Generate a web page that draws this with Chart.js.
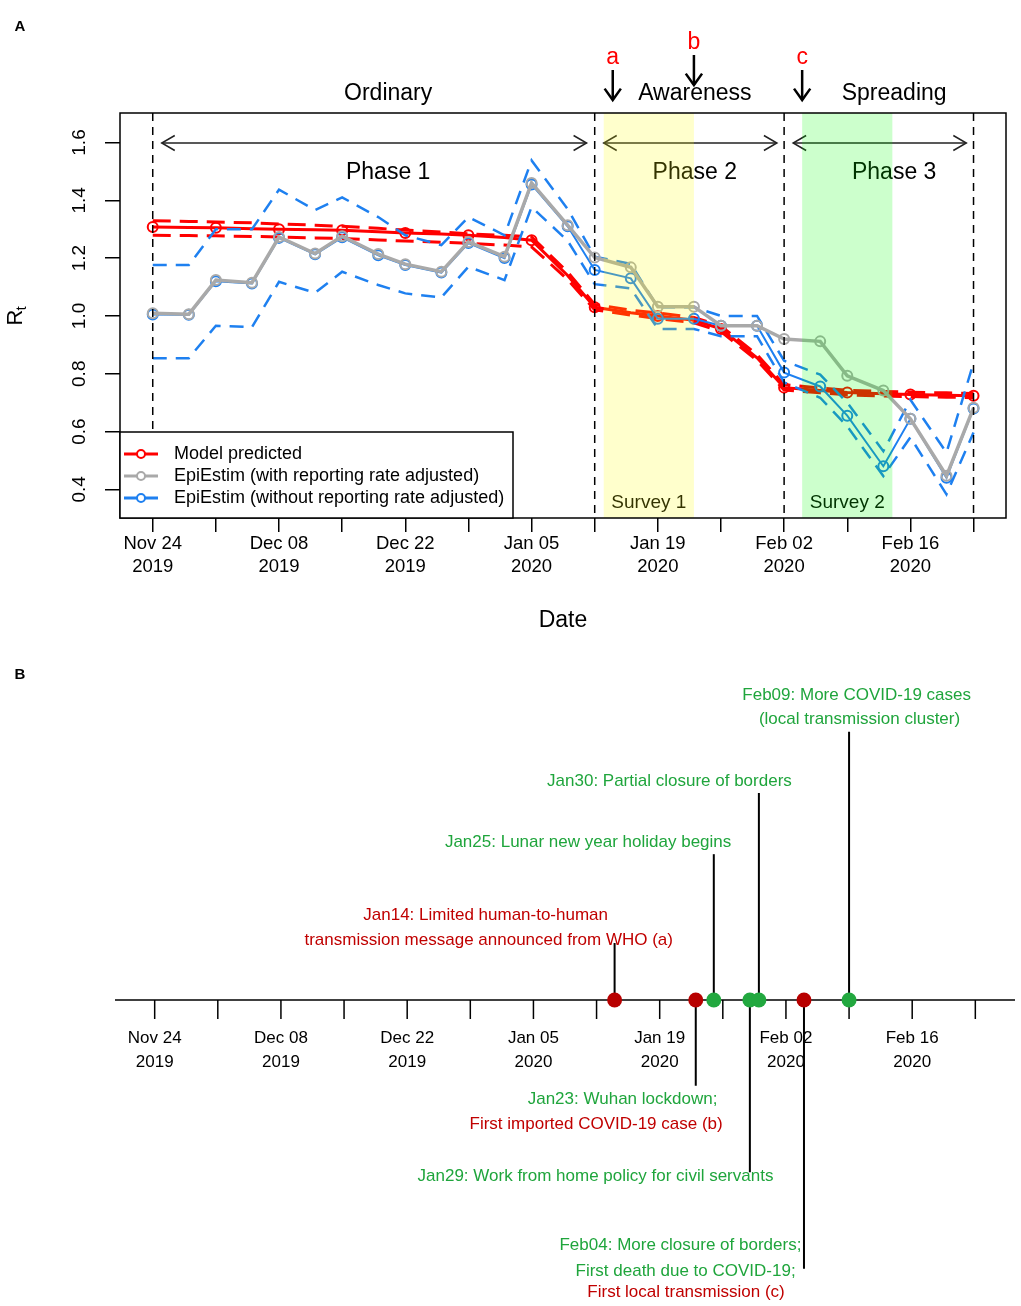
<!DOCTYPE html>
<html>
<head>
<meta charset="utf-8">
<script src="https://cdn.jsdelivr.net/npm/chart.js@4.4.0/dist/chart.umd.min.js"></script>
<style>
  html, body { margin: 0; padding: 0; background: #fff; }
  #wrap { position: relative; width: 1021px; height: 1306px; }
  canvas { position: absolute; left: 0; }
  #chartA { top: 0; }
  #chartB { top: 650px; }
</style>
</head>
<body>
<div id="wrap">
  <canvas id="chartA" width="1021" height="650"></canvas>
  <canvas id="chartB" width="1021" height="656"></canvas>
</div>
<script>
const FONT = '"Liberation Sans", Arial, Helvetica, sans-serif';
const RED = '#ff0000';
const GREY = '#a9a9a9';
const BLUE = '#1e80f0';
const TXT_RED = '#c00000';
const TXT_GREEN = '#1fa53c';

// ---- panel A data: days since 24 Nov 2019 ----
const days = [0, 4, 7, 11, 14, 18, 21, 25, 28, 32, 35, 39, 42, 46, 49, 53, 56, 60, 63, 67, 70, 74, 77, 81, 84, 88, 91];

const modelRt    = [1.308, 1.306, 1.305, 1.302, 1.300, 1.298, 1.296, 1.291, 1.287, 1.283, 1.279, 1.271, 1.262, 1.140, 1.030, 1.011, 1.000, 0.985, 0.955, 0.855, 0.752, 0.742, 0.735, 0.731, 0.728, 0.726, 0.724];
const modelUpper = [1.329, 1.327, 1.325, 1.322, 1.318, 1.314, 1.310, 1.303, 1.297, 1.290, 1.284, 1.279, 1.273, 1.152, 1.040, 1.020, 1.010, 0.995, 0.965, 0.866, 0.762, 0.751, 0.743, 0.739, 0.736, 0.734, 0.732];
const modelLower = [1.279, 1.278, 1.277, 1.275, 1.273, 1.270, 1.268, 1.263, 1.259, 1.255, 1.251, 1.245, 1.239, 1.126, 1.021, 1.003, 0.991, 0.976, 0.946, 0.846, 0.744, 0.734, 0.727, 0.723, 0.721, 0.719, 0.717];

const epiAdjRt   = [1.009, 1.006, 1.124, 1.115, 1.273, 1.216, 1.276, 1.214, 1.179, 1.153, 1.256, 1.205, 1.460, 1.314, 1.202, 1.168, 1.032, 1.032, 0.966, 0.966, 0.920, 0.912, 0.793, 0.742, 0.644, 0.447, 0.682];

const epiRawRt    = [1.005, 1.004, 1.120, 1.112, 1.270, 1.213, 1.272, 1.210, 1.176, 1.150, 1.252, 1.200, 1.455, 1.310, 1.159, 1.130, 0.990, 0.990, 0.966, 0.966, 0.804, 0.756, 0.655, 0.480, 0.644, 0.440, 0.680];
const epiRawUpper = [1.176, 1.176, 1.300, 1.300, 1.437, 1.366, 1.410, 1.342, 1.279, 1.245, 1.342, 1.279, 1.538, 1.370, 1.205, 1.180, 1.030, 1.030, 1.000, 1.000, 0.845, 0.797, 0.700, 0.532, 0.710, 0.527, 0.838];
const epiRawLower = [0.854, 0.854, 0.966, 0.961, 1.118, 1.080, 1.153, 1.107, 1.078, 1.064, 1.170, 1.124, 1.377, 1.260, 1.110, 1.095, 0.955, 0.955, 0.930, 0.930, 0.770, 0.717, 0.618, 0.446, 0.580, 0.383, 0.597];

// axis ticks
const weekTicks = [0, 7, 14, 21, 28, 35, 42, 49, 56, 63, 70, 77, 84, 91];
const tickDays = [0, 14, 28, 42, 56, 70, 84];
const tickLabels = [['Nov 24', '2019'], ['Dec 08', '2019'], ['Dec 22', '2019'], ['Jan 05', '2020'], ['Jan 19', '2020'], ['Feb 02', '2020'], ['Feb 16', '2020']];
const yTicks = [0.4, 0.6, 0.8, 1.0, 1.2, 1.4, 1.6];
const yTickLabels = ['0.4', '0.6', '0.8', '1.0', '1.2', '1.4', '1.6'];

// phases, surveys, events a/b/c
const phaseBreaks = [0, 49, 70, 91];
const phaseArrows = [[1, 48.1], [50, 69.2], [71, 90.2]];
const phaseNames = ['Phase 1', 'Phase 2', 'Phase 3'];
const periodNames = ['Ordinary', 'Awareness', 'Spreading'];
const phaseLabelDays = [26.1, 60.1, 82.2];
const surveyNames = ['Survey 1', 'Survey 2'];
const surveyFrom = [50, 72];
const surveyTo = [60, 82];
const surveyFill = ['rgba(255,255,0,0.2)', 'rgba(0,255,0,0.2)'];
const markDays = [51, 60, 72];
const markLetters = ['a', 'b', 'c'];

// ---- panel B data ----
const eventDays = [51, 60, 62, 66, 67, 72, 77];
const eventLetter = ['a', 'b', '', '', '', 'c', ''];
const eventStem = [0.95, -1.43, 2.43, -2.87, 3.45, -4.48, 4.47];
// label lines: [text, colour, centre day, level]
const eventText = [
  ['Jan14: Limited human-to-human', TXT_RED, 36.7, 1.405],
  ['transmission message announced from WHO (a)', TXT_RED, 37.04, 1.0],
  ['Jan23: Wuhan lockdown;', TXT_GREEN, 51.88, -1.655],
  ['First imported COVID-19 case (b)', TXT_RED, 48.95, -2.067],
  ['Jan25: Lunar new year holiday begins', TXT_GREEN, 48.06, 2.62],
  ['Jan29: Work from home policy for civil servants', TXT_GREEN, 48.88, -2.933],
  ['Jan30: Partial closure of borders', TXT_GREEN, 57.08, 3.65],
  ['Feb04: More closure of borders;', TXT_GREEN, 58.3, -4.095],
  ['First death due to COVID-19;', TXT_GREEN, 58.87, -4.517],
  ['First local transmission (c)', TXT_RED, 58.92, -4.867],
  ['Feb09: More COVID-19 cases', TXT_GREEN, 77.84, 5.083],
  ['(local transmission cluster)', TXT_GREEN, 78.16, 4.678]
];

const pts = vals => days.map((d, i) => ({ x: d, y: vals[i] }));

function head(ctx, tx, ty, ang, len, spread) {
  // open V arrow head, tip at (tx,ty), pointing along ang
  ctx.beginPath();
  ctx.moveTo(tx - len * Math.cos(ang - spread), ty - len * Math.sin(ang - spread));
  ctx.lineTo(tx, ty);
  ctx.lineTo(tx - len * Math.cos(ang + spread), ty - len * Math.sin(ang + spread));
  ctx.stroke();
}

const panelA = {
  id: 'panelA',
  afterDatasetsDraw(chart) {
    const { ctx, chartArea: a, scales: { x, y } } = chart;
    ctx.save();
    // phase boundaries
    ctx.strokeStyle = '#000';
    ctx.lineWidth = 1.5;
    ctx.setLineDash([8, 6]);
    phaseBreaks.forEach(d => {
      const px = x.getPixelForValue(d);
      ctx.beginPath();
      ctx.moveTo(px, a.top);
      ctx.lineTo(px, a.bottom);
      ctx.stroke();
    });
    ctx.setLineDash([]);
    // phase arrows
    const ay = a.top + 30;
    ctx.strokeStyle = '#222';
    ctx.lineWidth = 1.5;
    phaseArrows.forEach(([d1, d2]) => {
      const x1 = x.getPixelForValue(d1), x2 = x.getPixelForValue(d2);
      ctx.beginPath();
      ctx.moveTo(x1, ay);
      ctx.lineTo(x2, ay);
      ctx.stroke();
      head(ctx, x1, ay, Math.PI, 15, Math.PI / 6);
      head(ctx, x2, ay, 0, 15, Math.PI / 6);
    });
    ctx.fillStyle = '#000';
    ctx.textAlign = 'center';
    ctx.textBaseline = 'middle';
    ctx.font = '23px ' + FONT;
    phaseNames.forEach((t, i) => ctx.fillText(t, x.getPixelForValue(phaseLabelDays[i]), a.top + 60));
    ctx.font = '19px ' + FONT;
    surveyNames.forEach((t, i) => ctx.fillText(t, x.getPixelForValue((surveyFrom[i] + surveyTo[i]) / 2), a.bottom - 15));
    // survey shading, drawn over everything as a translucent band
    surveyNames.forEach((t, i) => {
      const x1 = x.getPixelForValue(surveyFrom[i]), x2 = x.getPixelForValue(surveyTo[i]);
      ctx.fillStyle = surveyFill[i];
      ctx.fillRect(x1, a.top, x2 - x1, a.bottom - a.top);
    });
    // frame
    ctx.strokeStyle = '#000';
    ctx.lineWidth = 1.5;
    ctx.strokeRect(a.left, a.top, a.right - a.left, a.bottom - a.top);
    ctx.restore();
  },
  afterDraw(chart) {
    const { ctx, chartArea: a, scales: { x, y } } = chart;
    ctx.save();
    ctx.textAlign = 'center';
    ctx.textBaseline = 'middle';
    // legend
    const items = chart.data.datasets.filter(ds => ds.legendRank !== undefined)
      .sort((p, q) => p.legendRank - q.legendRank);
    const lx = a.left, lw = 393, lh = 86, ly = a.bottom - lh;
    ctx.fillStyle = '#fff';
    ctx.fillRect(lx, ly, lw, lh);
    ctx.strokeStyle = '#000';
    ctx.lineWidth = 1.5;
    ctx.strokeRect(lx, ly, lw, lh);
    ctx.font = '18px ' + FONT;
    items.forEach((ds, i) => {
      const ry = ly + 22 + i * 22;
      ctx.strokeStyle = ds.borderColor;
      ctx.lineWidth = 3;
      ctx.beginPath();
      ctx.moveTo(lx + 4, ry);
      ctx.lineTo(lx + 38, ry);
      ctx.stroke();
      ctx.fillStyle = '#fff';
      ctx.lineWidth = 2;
      ctx.beginPath();
      ctx.arc(lx + 21, ry, 4, 0, Math.PI * 2);
      ctx.fill();
      ctx.stroke();
      ctx.fillStyle = '#000';
      ctx.textAlign = 'left';
      ctx.fillText(ds.label, lx + 54, ry);
    });
    ctx.textAlign = 'center';
    // period names above the frame
    ctx.fillStyle = '#000';
    ctx.font = '23px ' + FONT;
    periodNames.forEach((t, i) => ctx.fillText(t, x.getPixelForValue(phaseLabelDays[i]), a.top - 19));
    // a / b / c arrows
    markDays.forEach((d, i) => {
      const px = x.getPixelForValue(d);
      const raise = markLetters[i] === 'b' ? 15 : 0;
      ctx.fillStyle = RED;
      ctx.font = '23px ' + FONT;
      ctx.fillText(markLetters[i], px, 58 - raise);
      ctx.strokeStyle = '#000';
      ctx.lineWidth = 2.5;
      ctx.beginPath();
      ctx.moveTo(px, 70 - raise);
      ctx.lineTo(px, 100 - raise);
      ctx.stroke();
      head(ctx, px, 100 - raise, Math.PI / 2, 14, 0.62);
    });
    // y tick labels, rotated as in base R
    ctx.fillStyle = '#000';
    ctx.font = '19px ' + FONT;
    yTicks.forEach((v, i) => {
      ctx.save();
      ctx.translate(a.left - 40, y.getPixelForValue(v));
      ctx.rotate(-Math.PI / 2);
      ctx.fillText(yTickLabels[i], 0, 0);
      ctx.restore();
    });
    // y title R_t
    ctx.save();
    ctx.translate(16, (a.top + a.bottom) / 2);
    ctx.rotate(-Math.PI / 2);
    ctx.textAlign = 'left';
    ctx.font = '22px ' + FONT;
    ctx.fillText('R', -10, 0);
    ctx.font = '15px ' + FONT;
    ctx.fillText('t', 5, 6);
    ctx.restore();
    // x title
    ctx.font = '23px ' + FONT;
    ctx.fillText('Date', (a.left + a.right) / 2, 621);
    // panel letter
    ctx.font = 'bold 15px ' + FONT;
    ctx.fillText('A', 20, 27);
    ctx.restore();
  }
};

new Chart(document.getElementById('chartA'), {
  type: 'line',
  data: {
    datasets: [
      { label: 'EpiEstim (with reporting rate adjusted)', legendRank: 1, data: pts(epiAdjRt),
        borderColor: GREY, borderWidth: 3.5, pointRadius: 5, pointBorderWidth: 2,
        pointBorderColor: GREY, pointBackgroundColor: 'rgba(0,0,0,0)', order: 0 },
      { label: 'EpiEstim (without reporting rate adjusted)', legendRank: 2, data: pts(epiRawRt),
        borderColor: BLUE, borderWidth: 2, pointRadius: 5, pointBorderWidth: 2,
        pointBorderColor: BLUE, pointBackgroundColor: 'rgba(0,0,0,0)', order: 1 },
      { data: pts(epiRawUpper), borderColor: BLUE, borderWidth: 2.5, borderDash: [14, 9], pointRadius: 0, order: 2 },
      { data: pts(epiRawLower), borderColor: BLUE, borderWidth: 2.5, borderDash: [14, 9], pointRadius: 0, order: 2 },
      { label: 'Model predicted', legendRank: 0, data: pts(modelRt),
        borderColor: RED, borderWidth: 3, pointRadius: days.map(d => (d % 7 === 0 ? 5 : 0)),
        pointBorderWidth: 2, pointBorderColor: RED, pointBackgroundColor: 'rgba(0,0,0,0)', order: 3 },
      { data: pts(modelUpper), borderColor: RED, borderWidth: 3, borderDash: [18, 9], pointRadius: 0, order: 4 },
      { data: pts(modelLower), borderColor: RED, borderWidth: 3, borderDash: [18, 9], pointRadius: 0, order: 4 }
    ]
  },
  options: {
    responsive: false,
    animation: false,
    events: [],
    layout: { autoPadding: false, padding: { left: 0, right: 15, top: 113, bottom: 0 } },
    plugins: { legend: { display: false }, tooltip: { enabled: false } },
    scales: {
      x: {
        type: 'linear', min: -3.63, max: 94.6,
        afterBuildTicks: axis => { axis.ticks = weekTicks.map(v => ({ value: v })); },
        afterFit: axis => { axis.height = 132; },
        border: { display: false },
        grid: { drawOnChartArea: false, drawTicks: true, tickLength: 14, color: '#000', lineWidth: 1.5 },
        ticks: {
          autoSkip: false, maxRotation: 0, minRotation: 0, padding: 0, color: '#000',
          font: { family: FONT, size: 18.5, lineHeight: 1.25 },
          callback: v => { const k = tickDays.indexOf(v); return k >= 0 ? tickLabels[k] : ''; }
        }
      },
      y: {
        type: 'linear', min: 0.301, max: 1.702,
        afterBuildTicks: axis => { axis.ticks = yTicks.map(v => ({ value: v })); },
        afterFit: axis => { axis.width = 120; },
        border: { display: false },
        grid: { drawOnChartArea: false, drawTicks: true, tickLength: 15, color: '#000', lineWidth: 1.5 },
        ticks: { display: false }
      }
    }
  },
  plugins: [panelA]
});

// ---- panel B: timeline ----
const panelB = {
  id: 'panelB',
  beforeDatasetsDraw(chart) {
    const { ctx, chartArea: a, scales: { x, y } } = chart;
    const y0 = y.getPixelForValue(0);
    ctx.save();
    ctx.strokeStyle = '#000';
    ctx.lineWidth = 1.5;
    ctx.beginPath();
    ctx.moveTo(a.left, y0);
    ctx.lineTo(a.right, y0);
    ctx.stroke();
    weekTicks.forEach(d => {
      const px = x.getPixelForValue(d);
      ctx.beginPath();
      ctx.moveTo(px, y0);
      ctx.lineTo(px, y0 + 19);
      ctx.stroke();
    });
    ctx.fillStyle = '#000';
    ctx.textAlign = 'center';
    ctx.textBaseline = 'middle';
    ctx.font = '17px ' + FONT;
    tickDays.forEach((d, i) => {
      const px = x.getPixelForValue(d);
      ctx.fillText(tickLabels[i][0], px, y0 + 38);
      ctx.fillText(tickLabels[i][1], px, y0 + 62);
    });
    ctx.restore();
  },
  afterDatasetsDraw(chart) {
    const { ctx, scales: { x, y } } = chart;
    ctx.save();
    ctx.textAlign = 'center';
    ctx.textBaseline = 'middle';
    ctx.font = '17px ' + FONT;
    eventText.forEach(([t, c, d, lv]) => {
      ctx.fillStyle = c;
      ctx.fillText(t, x.getPixelForValue(d), y.getPixelForValue(lv));
    });
    ctx.fillStyle = '#000';
    ctx.font = 'bold 15px ' + FONT;
    ctx.fillText('B', 20, 25);
    ctx.restore();
  }
};

const stemSets = eventDays.map((d, i) => ({
  data: [{ x: d, y: 0 }, { x: d, y: eventStem[i] }],
  borderColor: '#000', borderWidth: 2, pointRadius: 0, order: 1
}));

new Chart(document.getElementById('chartB'), {
  type: 'line',
  data: {
    datasets: [
      { data: eventDays.map(d => ({ x: d, y: 0 })), showLine: false, pointRadius: 7.5, pointBorderWidth: 0,
        pointBackgroundColor: eventLetter.map(l => (l ? '#b80000' : '#22a83f')), order: 0 },
      ...stemSets
    ]
  },
  options: {
    responsive: false,
    animation: false,
    events: [],
    layout: { autoPadding: false, padding: { left: 115, right: 6, top: 0, bottom: 0 } },
    plugins: { legend: { display: false }, tooltip: { enabled: false } },
    scales: {
      x: { type: 'linear', min: -4.4, max: 95.4, display: false },
      y: { type: 'linear', min: -5.1, max: 5.833, display: false }
    }
  },
  plugins: [panelB]
});
</script>
</body>
</html>
